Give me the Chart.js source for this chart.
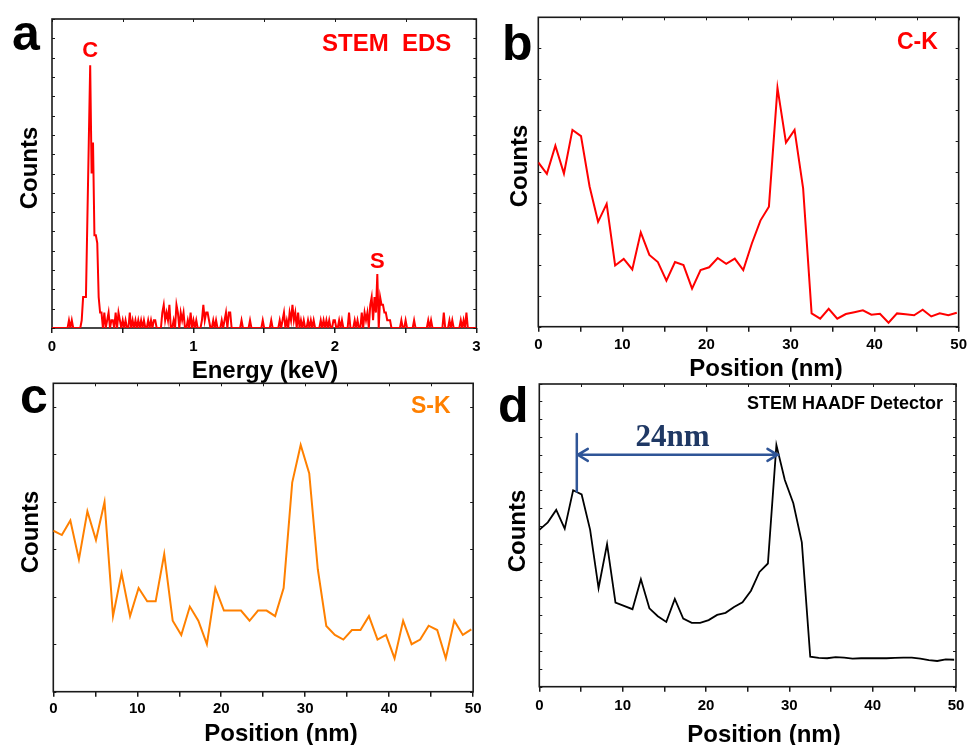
<!DOCTYPE html>
<html>
<head>
<meta charset="utf-8">
<script src="https://cdn.jsdelivr.net/npm/chart.js@4.4.1/dist/chart.umd.min.js"></script>
<style>
  body { margin: 0; background: #fff; }
  #wrap { position: relative; width: 971px; height: 745px; overflow: hidden; background: #fff; }
  canvas { position: absolute; }
</style>
</head>
<body>
<div id="wrap">
  <canvas id="panelA" width="485" height="383" style="left:0;top:0"></canvas>
  <canvas id="panelB" width="486" height="380" style="left:485px;top:0"></canvas>
  <canvas id="panelC" width="485" height="365" style="left:0;top:380px"></canvas>
  <canvas id="panelD" width="486" height="365" style="left:485px;top:380px"></canvas>
</div>
<script>
// (a) STEM EDS spectrum, 10 eV channels from 0 to 3 keV
const energyStep = 0.01;
const edsCounts = [
  0,0,0,0,0,0,0,0,0,0,  0,0,1,0,1,0,0,0,0,0,
  0,1,4,4,4,14,24,34,20,24,  12,12,11,4,2,2,0,2,0,1,
  2,0,1,1,0,2,0,2,1,0,  1,0,1,0,0,2,0,1,0,1,
  0,1,0,1,0,1,0,0,1,0,  1,0,1,1,0,0,0,0,2,3,
  1,2,1,3,0,0,1,0,3,2,  0,2,1,2,0,0,1,0,2,0,
  1,0,1,0,0,0,1,3,1,2,  2,1,0,0,1,0,1,0,0,0,
  1,0,1,2,0,2,2,0,0,0,  0,0,0,0,1,0,0,0,0,0,
  1,0,0,0,0,0,0,0,0,1,  0,0,0,0,0,1,0,0,0,0,
  0,1,0,1,2,0,1,0,2,1,  3,1,2,0,2,0,1,0,1,0,
  0,1,0,1,0,1,0,0,0,0,  1,0,1,0,1,0,1,0,0,1,
  1,0,0,1,0,1,0,0,0,0,  2,0,0,0,1,0,1,0,0,2,
  0,2,1,2,0,3,4,1,4,2,  7,0,4,3,3,2,2,1,1,1,
  0,0,0,0,0,0,0,1,0,0,  1,0,0,0,0,0,1,0,0,0,
  0,0,0,0,0,0,1,0,1,0,  0,0,0,0,0,0,0,2,0,0,
  0,1,0,1,0,0,0,0,0,1,  0,1,0,2,0,0,0,0,0,0,
  0
];

// (b)-(d) line scans, position in nm
const positions = [0, 1.02, 2.03, 3.05, 4.06, 5.08, 6.1, 7.11, 8.13, 9.14,
  10.16, 11.18, 12.19, 13.21, 14.22, 15.24, 16.26, 17.27, 18.29, 19.3,
  20.32, 21.34, 22.35, 23.37, 24.38, 25.4, 26.42, 27.43, 28.45, 29.46,
  30.48, 31.5, 32.51, 33.53, 34.54, 35.56, 36.58, 37.59, 38.61, 39.62,
  40.64, 41.66, 42.67, 43.69, 44.7, 45.72, 46.74, 47.75, 48.77, 49.78];

const carbonK = [53.1, 49.4, 58.5, 49.5, 63.6, 61.6, 45.3, 33.9, 39.7, 19.8,
  21.9, 18.5, 30.5, 23.2, 20.9, 14.9, 20.9, 19.9, 12.3, 18.3,
  19.2, 22.2, 20.3, 22.0, 18.3, 26.9, 34.3, 38.8, 77.2, 59.5,
  63.6, 44.7, 4.3, 2.6, 5.8, 2.6, 4.1, 4.7, 5.3, 3.9,
  4.2, 1.3, 4.3, 4.0, 3.7, 5.5, 3.3, 4.3, 3.7, 4.5];

const sulfurK = [52.2, 50.8, 55.5, 42.9, 58.5, 49.2, 61.5, 24.5, 38.4, 24.5,
  33.6, 29.3, 29.3, 44.6, 23.0, 18.4, 27.6, 23.0, 15.4, 33.6,
  26.3, 26.3, 26.3, 23.0, 26.3, 26.3, 24.5, 33.6, 67.8, 80.0,
  70.8, 39.7, 21.3, 18.4, 16.9, 20.0, 20.0, 24.5, 16.9, 18.4,
  10.8, 23.0, 15.4, 16.9, 21.4, 20.0, 10.8, 23.0, 18.4, 20.2];

const haadf = [51.8, 54.3, 58.4, 52.2, 64.9, 63.5, 51.8, 32.6, 47.1, 27.8,
  26.7, 25.6, 35.5, 25.9, 23.3, 21.4, 29.0, 22.5, 21.1, 21.1,
  22.0, 23.7, 24.4, 26.3, 27.9, 31.7, 37.9, 40.7, 79.8, 68.3,
  60.6, 47.7, 9.9, 9.5, 9.4, 9.8, 9.6, 9.3, 9.4, 9.4,
  9.4, 9.4, 9.5, 9.6, 9.6, 9.3, 8.8, 8.5, 9.0, 8.9];

const energyTicks = [0, 1, 2, 3];
const positionTicks = [0, 10, 20, 30, 40, 50];

const SANS = 'Arial, "Liberation Sans", Helvetica, sans-serif';
const SERIF = '"Times New Roman", "Liberation Serif", serif';

function text(ctx, s, x, y, size, color, opt = {}) {
  ctx.save();
  ctx.font = 'bold ' + size + 'px ' + (opt.serif ? SERIF : SANS);
  ctx.fillStyle = color;
  ctx.textAlign = opt.align || 'left';
  ctx.textBaseline = opt.baseline || 'alphabetic';
  if (opt.rotate) {
    ctx.translate(x, y);
    ctx.rotate(-Math.PI / 2);
    ctx.fillText(s, 0, 0);
  } else {
    ctx.fillText(s, x, y);
  }
  ctx.restore();
}

// box around plot area plus small inward ticks (left/right/top)
function drawFrame(chart) {
  const { ctx, chartArea: a, scales: { x, y } } = chart;
  ctx.save();
  ctx.strokeStyle = '#1a1a1a';
  ctx.lineWidth = 1;
  ctx.beginPath();
  y.ticks.forEach(t => {
    const py = Math.round(y.getPixelForValue(t.value)) + 0.5;
    ctx.moveTo(a.left, py); ctx.lineTo(a.left + 3, py);
    ctx.moveTo(a.right, py); ctx.lineTo(a.right - 3, py);
  });
  x.ticks.forEach(t => {
    const px = Math.round(x.getPixelForValue(t.value)) + 0.5;
    ctx.moveTo(px, a.top); ctx.lineTo(px, a.top + 3);
  });
  ctx.stroke();
  ctx.lineWidth = 1.6;
  ctx.strokeRect(a.left, a.top, a.right - a.left, a.bottom - a.top);
  ctx.restore();
}

function makePanel(id, p) {
  return new Chart(document.getElementById(id), {
    type: 'line',
    data: {
      datasets: [{
        data: p.points,
        borderColor: p.color,
        borderWidth: p.lineWidth,
        pointRadius: 0,
        tension: 0,
        fill: false
      }]
    },
    options: {
      responsive: false,
      animation: false,
      layout: { padding: { left: 0, top: p.top, right: p.right, bottom: p.bottom || 0 } },
      scales: {
        x: {
          type: 'linear',
          min: p.xMin, max: p.xMax,
          afterFit: s => { s.height = p.xHeight; },
          border: { display: false },
          grid: { drawOnChartArea: false, drawTicks: true, tickLength: 5, color: '#1a1a1a', lineWidth: 1.5 },
          ticks: {
            stepSize: p.xStep,
            autoSkip: false,
            maxRotation: 0,
            padding: p.tickPad,
            color: '#000',
            font: { family: SANS, weight: 'bold', size: 15 },
            callback: v => (p.xLabels.includes(v) ? String(v) : '')
          }
        },
        y: {
          min: 0, max: p.yMax,
          afterFit: s => { s.width = p.yWidth; },
          border: { display: false },
          grid: { display: false },
          ticks: { display: false, stepSize: p.yStep }
        }
      },
      plugins: { legend: { display: false }, tooltip: { enabled: false } }
    },
    plugins: [{
      id: 'decor',
      beforeDatasetsDraw(chart) {
        drawFrame(chart);
      },
      afterDraw(chart) {
        p.decorate(chart);
      }
    }]
  });
}

makePanel('panelA', {
  points: edsCounts.map((c, i) => ({ x: i * energyStep, y: c })),
  color: '#ff0000', lineWidth: 2,
  top: 19, right: 8, bottom: 3, yWidth: 52, xHeight: 52, tickPad: 4.5,
  xMin: 0, xMax: 3, xStep: 0.5, xLabels: energyTicks,
  yMax: 40, yStep: 2.5,
  decorate(chart) {
    const { ctx, scales: { x, y } } = chart;
    text(ctx, 'a', 12, 50, 50, '#000');
    text(ctx, 'Counts', 30, 168, 24, '#000', { rotate: true, align: 'center', baseline: 'middle' });
    text(ctx, 'Energy (keV)', 265, 378, 24, '#000', { align: 'center' });
    text(ctx, 'STEM  EDS', 322, 51, 24, '#ff0000');
    text(ctx, 'C', x.getPixelForValue(0.27), y.getPixelForValue(34) - 8, 22, '#ff0000', { align: 'center' });
    text(ctx, 'S', x.getPixelForValue(2.3), y.getPixelForValue(7) - 6, 22, '#ff0000', { align: 'center' });
  }
});

makePanel('panelB', {
  points: positions.map((v, i) => ({ x: v, y: carbonK[i] })),
  color: '#ff0000', lineWidth: 2,
  top: 17.3, right: 8.7, yWidth: 53.3, xHeight: 53.3, tickPad: 4,
  xMin: 0, xMax: 50, xStep: 5, xLabels: positionTicks,
  yMax: 100, yStep: 10,
  decorate(chart) {
    const { ctx } = chart;
    text(ctx, 'b', 17, 60, 50, '#000');
    text(ctx, 'Counts', 35, 166, 24, '#000', { rotate: true, align: 'center', baseline: 'middle' });
    text(ctx, 'Position (nm)', 281, 375.5, 24, '#000', { align: 'center' });
    text(ctx, 'C-K', 412, 49, 23, '#ff0000');
  }
});

makePanel('panelC', {
  points: positions.map((v, i) => ({ x: v, y: sulfurK[i] })),
  color: '#ff8000', lineWidth: 2,
  top: 3.3, right: 9, yWidth: 53.3, xHeight: 53.3, tickPad: 3.5,
  xMin: 0, xMax: 50, xStep: 5, xLabels: positionTicks,
  yMax: 100, yStep: 15.4,
  decorate(chart) {
    const { ctx } = chart;
    text(ctx, 'c', 20, 33, 50, '#000');
    text(ctx, 'Counts', 31, 152, 24, '#000', { rotate: true, align: 'center', baseline: 'middle' });
    text(ctx, 'Position (nm)', 281, 360.5, 24, '#000', { align: 'center' });
    text(ctx, 'S-K', 411, 33, 23, '#ff8000');
  }
});

makePanel('panelD', {
  points: positions.map((v, i) => ({ x: v, y: haadf[i] })),
  color: '#000000', lineWidth: 1.8,
  top: 4, right: 15, yWidth: 54.3, xHeight: 58.3, tickPad: 5,
  xMin: 0, xMax: 50, xStep: 5, xLabels: positionTicks,
  yMax: 100, yStep: 5.9,
  decorate(chart) {
    const { ctx, scales: { x, y } } = chart;
    text(ctx, 'd', 13, 42, 50, '#000');
    text(ctx, 'Counts', 33, 151, 24, '#000', { rotate: true, align: 'center', baseline: 'middle' });
    text(ctx, 'Position (nm)', 279, 362, 24, '#000', { align: 'center' });
    text(ctx, 'STEM HAADF Detector', 262, 29.3, 18, '#000');

    // 24 nm width marker between the two HAADF maxima
    const xl = x.getPixelForValue(4.5), xr = x.getPixelForValue(28.7);
    const ya = y.getPixelForValue(76.6);
    ctx.save();
    ctx.strokeStyle = '#2f5597';
    ctx.lineWidth = 2.5;
    ctx.lineCap = 'round';
    ctx.beginPath();
    ctx.moveTo(xl, y.getPixelForValue(83.5));
    ctx.lineTo(xl, y.getPixelForValue(64.5));
    ctx.moveTo(xl, ya); ctx.lineTo(xr, ya);
    ctx.moveTo(xl + 11, ya - 6); ctx.lineTo(xl + 1, ya); ctx.lineTo(xl + 11, ya + 6);
    ctx.moveTo(xr - 11, ya - 6); ctx.lineTo(xr - 1, ya); ctx.lineTo(xr - 11, ya + 6);
    ctx.stroke();
    ctx.restore();
    text(ctx, '24nm', (xl + xr) / 2 - 5, ya - 9, 31, '#1f3864', { serif: true, align: 'center' });
  }
});
</script>
</body>
</html>
